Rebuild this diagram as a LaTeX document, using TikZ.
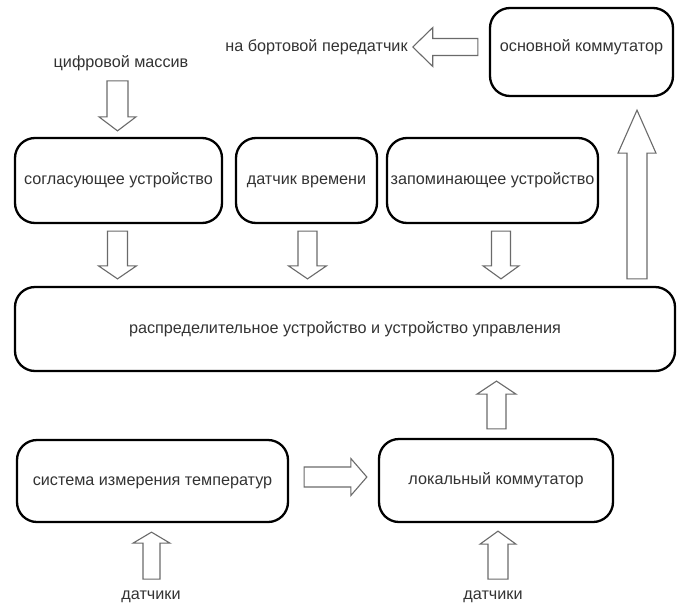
\documentclass[tikz,border=0pt]{standalone}
\usepackage{fontspec}
\setmainfont{Liberation Sans}
\usetikzlibrary{calc}
\definecolor{txt}{HTML}{333333}
\definecolor{arrowline}{HTML}{6A6A6A}
\tikzset{
  box/.style={draw=black, line width=2.3pt, rounded corners=20pt, fill=white,
    text=txt, font=\fontsize{16.2}{19}\selectfont, inner sep=0pt,
    text height=11.5pt, text depth=3pt},
  lbl/.style={text=txt, font=\fontsize{16.2}{19}\selectfont, inner sep=0pt,
    text height=11.5pt, text depth=3pt},
  barrow/.style={draw=arrowline, line width=1.1pt, fill=white, line join=miter},
}
% block arrow: tail, tip, shaft half-width, head half-width, head length
\newcommand{\blockarrow}[5]{%
  \coordinate (bahead) at ($(#2)!#5!(#1)$);
  \draw[barrow] ($(#1)!#3!90:(#2)$) -- ($(bahead)!#3!-90:(#1)$)
    -- ($(bahead)!#4!-90:(#1)$) -- (#2) -- ($(bahead)!#4!90:(#1)$)
    -- ($(bahead)!#3!90:(#1)$) -- ($(#1)!#3!-90:(#2)$) -- cycle;
}
\begin{document}
\begin{tikzpicture}[x=1pt, y=-1pt]
\useasboundingbox[fill=white] (0,0) rectangle (686,603);

% blocks
\node[box, minimum width=183pt, minimum height=88pt, text depth=13.5pt] (osn) at (581.5,52) {основной коммутатор};
\node[box, minimum width=207pt, minimum height=85pt] (sogl) at (118.5,180.5) {согласующее устройство};
\node[box, minimum width=141pt, minimum height=85pt] (dat) at (306.5,180.5) {датчик времени};
\node[box, minimum width=211pt, minimum height=85pt] (zap) at (492.5,180.5) {запоминающее устройство};
\node[box, minimum width=660pt, minimum height=84pt] (big) at (345,329) {распределительное устройство и устройство управления};
\node[box, minimum width=271pt, minimum height=82pt] (sis) at (152.5,481) {система измерения температур};
\node[box, minimum width=234pt, minimum height=83pt] (lok) at (496,480.5) {локальный коммутатор};

% free labels
\node[lbl] (obt) at (316.5,47) {на бортовой передатчик};
\node[lbl] (dig) at (121,63) {цифровой массив};
\node[lbl] (dk1) at (151,595) {датчики};
\node[lbl] (dk2) at (493,595) {датчики};

% arrow ends
\coordinate (a1) at ($(osn.west)+(-11,-5)$);
\coordinate (a2) at ($(obt.east)+(5,0)$);
\coordinate (b1) at ($(sogl.north)+(-1,-56)$);
\coordinate (b2) at ($(sogl.north)+(-1,-6)$);
\coordinate (c1) at ($(sogl.south)+(-1,7)$);
\coordinate (c2) at ($(big.north -| sogl.south)+(-1,-7)$);
\coordinate (d1) at ($(dat.south)+(1,7)$);
\coordinate (d2) at ($(big.north -| dat.south)+(1,-7)$);
\coordinate (e1) at ($(zap.south)+(8.5,7)$);
\coordinate (e2) at ($(big.north -| zap.south)+(8.5,-7)$);
\coordinate (f1) at ($(big.north)+(292,-7)$);
\coordinate (f2) at ($(osn.south)+(55.5,13)$);
\coordinate (g1) at ($(lok.north)+(0.5,-9)$);
\coordinate (g2) at ($(big.south -| lok.north)+(0.5,9)$);
\coordinate (h1) at ($(sis.east)+(15,-4)$);
\coordinate (h2) at ($(lok.west)+(-11,-3.5)$);
\coordinate (i1) at ($(sis.south)+(-1,56)$);
\coordinate (i2) at ($(sis.south)+(-1,9)$);
\coordinate (j1) at ($(lok.south)+(2,56)$);
\coordinate (j2) at ($(lok.south)+(2,8)$);

% arrows
\blockarrow{a1}{a2}{8.5pt}{19.5pt}{20pt}
\blockarrow{b1}{b2}{10.5pt}{18.5pt}{14pt}
\blockarrow{c1}{c2}{10pt}{19pt}{13pt}
\blockarrow{d1}{d2}{9.5pt}{19pt}{13pt}
\blockarrow{e1}{e2}{9.5pt}{18pt}{13pt}
\blockarrow{f1}{f2}{10pt}{19pt}{43pt}
\blockarrow{g1}{g2}{9.5pt}{19.5pt}{13pt}
\blockarrow{h1}{h2}{10pt}{18.5pt}{16pt}
\blockarrow{i1}{i2}{8.5pt}{18.5pt}{11pt}
\blockarrow{j1}{j2}{10pt}{18pt}{13pt}
\end{tikzpicture}
\end{document}
